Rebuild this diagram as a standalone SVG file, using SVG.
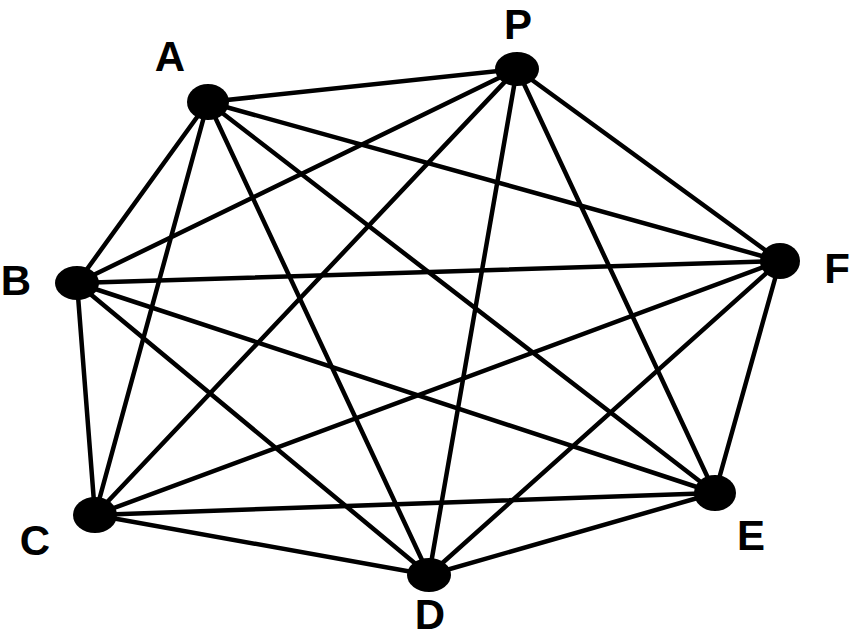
<svg xmlns="http://www.w3.org/2000/svg" width="853" height="639" viewBox="0 0 853 639">
<style>
.e{stroke:#000;stroke-width:4.5;stroke-linecap:round;fill:none}
.n{fill:#000}
.l{font-family:"Liberation Sans",Arial,sans-serif;font-weight:bold;font-size:42px;fill:#000;text-anchor:middle}
</style>
<rect width="853" height="639" fill="#fff"/>
<g id="connectors">
<line class="e" x1="208" y1="102" x2="517" y2="69"/>
<line class="e" x1="208" y1="102" x2="780" y2="261"/>
<line class="e" x1="208" y1="102" x2="715" y2="493"/>
<line class="e" x1="208" y1="102" x2="429" y2="575"/>
<line class="e" x1="208" y1="102" x2="95" y2="515"/>
<line class="e" x1="208" y1="102" x2="77" y2="283"/>
<line class="e" x1="517" y1="69" x2="780" y2="261"/>
<line class="e" x1="517" y1="69" x2="715" y2="493"/>
<line class="e" x1="517" y1="69" x2="429" y2="575"/>
<line class="e" x1="517" y1="69" x2="95" y2="515"/>
<line class="e" x1="517" y1="69" x2="77" y2="283"/>
<line class="e" x1="780" y1="261" x2="715" y2="493"/>
<line class="e" x1="780" y1="261" x2="429" y2="575"/>
<line class="e" x1="780" y1="261" x2="95" y2="515"/>
<line class="e" x1="780" y1="261" x2="77" y2="283"/>
<line class="e" x1="715" y1="493" x2="429" y2="575"/>
<line class="e" x1="715" y1="493" x2="95" y2="515"/>
<line class="e" x1="715" y1="493" x2="77" y2="283"/>
<line class="e" x1="429" y1="575" x2="95" y2="515"/>
<line class="e" x1="429" y1="575" x2="77" y2="283"/>
<line class="e" x1="95" y1="515" x2="77" y2="283"/>
</g>
<g id="A"><ellipse class="n" cx="208" cy="102" rx="21" ry="18"/><text class="l" x="170" y="71">A</text></g>
<g id="P"><ellipse class="n" cx="517" cy="69" rx="22" ry="17"/><text class="l" x="518" y="39">P</text></g>
<g id="F"><ellipse class="n" cx="780" cy="261" rx="20" ry="18"/><text class="l" x="837" y="283">F</text></g>
<g id="E"><ellipse class="n" cx="715" cy="493" rx="21" ry="18"/><text class="l" x="751" y="550">E</text></g>
<g id="D"><ellipse class="n" cx="429" cy="575" rx="22" ry="17"/><text class="l" x="430" y="629">D</text></g>
<g id="C"><ellipse class="n" cx="95" cy="515" rx="22" ry="18"/><text class="l" x="35" y="555">C</text></g>
<g id="B"><ellipse class="n" cx="77" cy="283" rx="22" ry="17"/><text class="l" x="16" y="295">B</text></g>
</svg>
